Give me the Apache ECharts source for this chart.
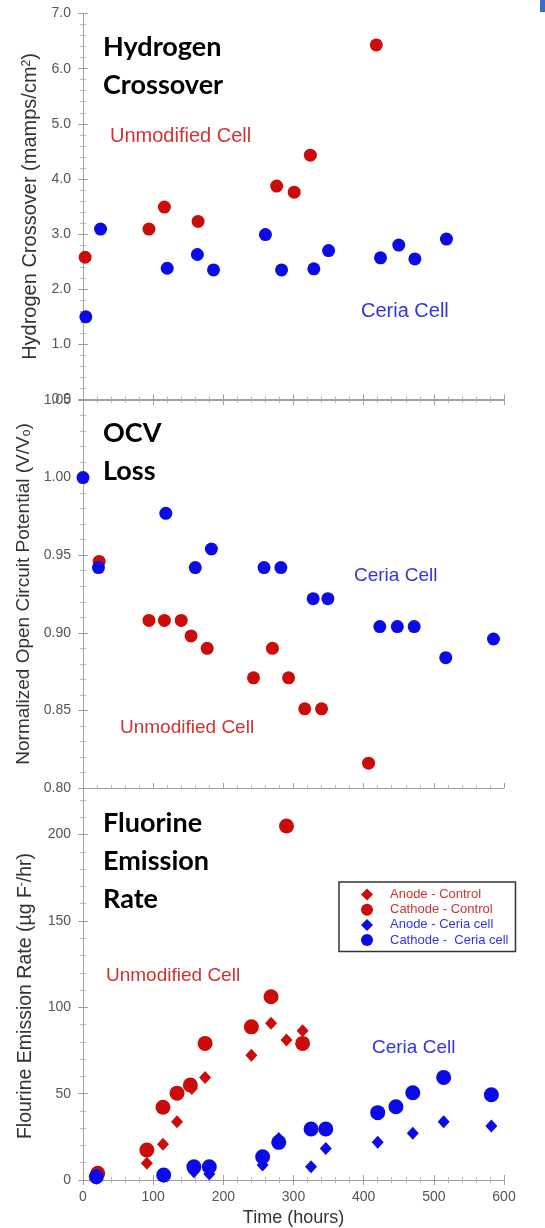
<!DOCTYPE html>
<html>
<head>
<meta charset="utf-8">
<script src="https://cdn.jsdelivr.net/npm/echarts@6/dist/echarts.min.js"></script>
<style>
  html, body { margin: 0; padding: 0; background: #fff; }
  #chart { width: 545px; height: 1228px; }
</style>
</head>
<body>
<div id="chart"></div>
<script>
// ---- Hydrogen crossover (mA/cm^2) ----
const h2ControlTime  = [3, 94, 116, 164, 276, 301, 324, 418];
const h2ControlValue = [2.58, 3.09, 3.49, 3.23, 3.87, 3.76, 4.43, 6.43];
const h2CeriaTime    = [4, 25, 120, 163, 186, 260, 283, 329, 350, 424, 450, 473, 518];
const h2CeriaValue   = [1.50, 3.09, 2.38, 2.63, 2.35, 2.99, 2.35, 2.37, 2.70, 2.57, 2.80, 2.55, 2.91];

// ---- Normalized open circuit potential (V/Vo) ----
const ocvControlTime  = [23, 94, 116, 140, 154, 177, 243, 270, 293, 316, 340, 407];
const ocvControlValue = [0.946, 0.908, 0.908, 0.908, 0.898, 0.890, 0.871, 0.890, 0.871, 0.851, 0.851, 0.816];
const ocvCeriaTime    = [0, 22, 118, 160, 183, 258, 282, 328, 349, 423, 448, 472, 517, 585];
const ocvCeriaValue   = [1.000, 0.942, 0.977, 0.942, 0.954, 0.942, 0.942, 0.922, 0.922, 0.904, 0.904, 0.904, 0.884, 0.896];

// ---- Fluoride emission rate (ug F-/hr) ----
const feAnodeControlTime    = [20, 91, 114, 134, 155, 174, 240, 268, 290, 313];
const feAnodeControlValue   = [1.5, 9.7, 20.7, 33.8, 53, 59.4, 72.3, 90.7, 81, 86.4];
const feCathodeControlTime  = [21, 91, 114, 134, 153, 174, 240, 268, 290, 313];
const feCathodeControlValue = [3.9, 17.4, 42.1, 50.3, 55.0, 79.1, 88.7, 106.1, 205, 79.1];
const feAnodeCeriaTime      = [19, 115, 158, 180, 256, 279, 325, 346, 420, 470, 514, 582];
const feAnodeCeriaValue     = [1, 2, 4.8, 3.5, 8.7, 24.1, 7.7, 18.3, 21.8, 27, 33.8, 31.3];
const feCathodeCeriaTime    = [19, 115, 158, 180, 256, 279, 325, 346, 420, 446, 470, 514, 582];
const feCathodeCeriaValue   = [1.9, 2.9, 7.7, 7.7, 13.5, 21.8, 29.5, 29.5, 39, 42.4, 50.5, 59.4, 49.4];

// ---- Axes ----
const timeTicks = { min: 0, max: 600, interval: 100 };
const legendNames = ['Anode - Control', 'Cathode - Control', 'Anode - Ceria cell', 'Cathode -  Ceria cell'];

const RED = '#cc0b0b';
const BLUE = '#0b0be6';
const RED_TEXT = '#d23232';
const BLUE_TEXT = '#3434e0';
const FRAME = '#a0a0a0';
const FONT = '"Liberation Sans", Arial, sans-serif';

const pair = (xs, ys) => xs.map((x, i) => [x, ys[i]]);

const grids = [
  { left: 83, top: 13.5, width: 421, height: 386 },
  { left: 83, top: 400, width: 421, height: 388 },
  { left: 83, top: 788, width: 421, height: 392 }
];

const lineStyle = { color: FRAME, width: 1 };
const tickStyle = { show: true, inside: true, length: 5, lineStyle: { color: FRAME } };
const minorStyle = { show: true, splitNumber: 5, length: 3, lineStyle: { color: '#b8b8b8' } };

const xAxes = [];
const yAxes = [];
grids.forEach((g, i) => {
  xAxes.push({
    type: 'value', gridIndex: i, position: 'bottom',
    min: timeTicks.min, max: timeTicks.max, interval: timeTicks.interval,
    axisLine: { show: true, lineStyle },
    axisTick: tickStyle, minorTick: minorStyle,
    splitLine: { show: false },
    axisLabel: {
      show: i === 2, color: '#555', fontFamily: FONT, fontSize: 14, margin: 10
    },
    name: i === 2 ? 'Time (hours)' : '',
    nameLocation: 'middle', nameGap: 29,
    nameTextStyle: { color: '#333', fontFamily: FONT, fontSize: 18 }
  });
  xAxes.push({
    type: 'value', gridIndex: i, position: 'top',
    min: timeTicks.min, max: timeTicks.max, interval: timeTicks.interval,
    axisLine: { show: true, lineStyle },
    axisTick: tickStyle, minorTick: minorStyle,
    splitLine: { show: false }, axisLabel: { show: false }
  });
});

const yDefs = [
  { min: 0, max: 7, interval: 1, fmt: v => v.toFixed(1), showMax: true,
    name: 'Hydrogen Crossover (mamps/cm{sup|2})', gap: 29, size: 20, pad: [0, 0, 0, 0] },
  { min: 0.8, max: 1.05, interval: 0.05, fmt: v => v.toFixed(2), showMax: true,
    name: 'Normalized Open Circuit Potential (V/V{sub|o})', gap: 45, size: 19, pad: [0, 0, 0, 0] },
  { min: 0, max: 227, interval: 50, fmt: v => String(Math.round(v)), showMax: false,
    name: 'Flourine Emission Rate (µg F{sup|-}/hr)', gap: 47, size: 19.5, pad: [0, 24, 0, 0] }
];

yDefs.forEach((d, i) => {
  yAxes.push({
    type: 'value', gridIndex: i, position: 'left',
    min: d.min, max: d.max, interval: d.interval,
    axisLine: { show: true, lineStyle },
    axisTick: tickStyle, minorTick: minorStyle,
    splitLine: { show: false },
    axisLabel: {
      color: '#555', fontFamily: FONT, fontSize: 14, margin: 12,
      formatter: d.fmt, showMaxLabel: d.showMax, showMinLabel: true
    },
    name: d.name, nameLocation: 'middle', nameGap: d.gap,
    nameTextStyle: {
      color: '#333', fontFamily: FONT, fontSize: d.size, padding: d.pad,
      rich: {
        sup: { fontSize: 12, verticalAlign: 'top', color: '#333', fontFamily: FONT },
        sub: { fontSize: 12, verticalAlign: 'bottom', color: '#333', fontFamily: FONT }
      }
    }
  });
  yAxes.push({
    type: 'value', gridIndex: i, position: 'right',
    min: d.min, max: d.max, interval: d.interval,
    axisLine: { show: true, lineStyle },
    axisTick: tickStyle, minorTick: minorStyle,
    splitLine: { show: false }, axisLabel: { show: false }
  });
});

function scatter(name, panel, xs, ys, color, symbol, size, z) {
  return {
    name, type: 'scatter',
    xAxisIndex: panel * 2, yAxisIndex: panel * 2,
    data: pair(xs, ys),
    symbol, symbolSize: size,
    itemStyle: { color, opacity: 1 },
    z: z || 2,
    silent: true, clip: false
  };
}

const series = [
  scatter('H2 Unmodified Cell', 0, h2ControlTime, h2ControlValue, RED, 'circle', 13),
  scatter('H2 Ceria Cell', 0, h2CeriaTime, h2CeriaValue, BLUE, 'circle', 13),
  scatter('OCV Unmodified Cell', 1, ocvControlTime, ocvControlValue, RED, 'circle', 13),
  scatter('OCV Ceria Cell', 1, ocvCeriaTime, ocvCeriaValue, BLUE, 'circle', 13, 3),
  scatter(legendNames[0], 2, feAnodeControlTime, feAnodeControlValue, RED, 'diamond', [12, 13]),
  scatter(legendNames[1], 2, feCathodeControlTime, feCathodeControlValue, RED, 'circle', 15),
  scatter(legendNames[2], 2, feAnodeCeriaTime, feAnodeCeriaValue, BLUE, 'diamond', [12, 13], 3),
  scatter(legendNames[3], 2, feCathodeCeriaTime, feCathodeCeriaValue, BLUE, 'circle', 15, 3)
];

// Panel headings and cell annotations
const heading = (lines, x, y0) => lines.map((t, k) => ({
  type: 'text', x, y: y0 + k * 38, silent: true,
  style: { text: t, font: 'bold 27px Lato, "Open Sans", sans-serif', fill: '#000', verticalAlign: 'middle' }
}));
const note = (t, x, y, color, size) => ({
  type: 'text', x, y, silent: true,
  style: { text: t, font: size + 'px ' + FONT, fill: color, verticalAlign: 'middle' }
});

const graphic = [
  ...heading(['Hydrogen', 'Crossover'], 103, 47),
  ...heading(['OCV', 'Loss'], 103, 433),
  ...heading(['Fluorine', 'Emission', 'Rate'], 103, 823),
  note('Unmodified Cell', 110, 136, RED_TEXT, 20),
  note('Ceria Cell', 361, 311, BLUE_TEXT, 20),
  note('Ceria Cell', 354, 576, BLUE_TEXT, 19),
  note('Unmodified Cell', 120, 728, RED_TEXT, 19),
  note('Unmodified Cell', 106, 976, RED_TEXT, 19),
  note('Ceria Cell', 372, 1048, BLUE_TEXT, 19),
  { type: 'rect', shape: { x: 540, y: 0, width: 5, height: 12 }, style: { fill: '#3d6cc4' }, silent: true }
];

const chart = echarts.init(document.getElementById('chart'), null, { renderer: 'canvas' });
chart.setOption({
  animation: false,
  backgroundColor: '#fff',
  grid: grids,
  xAxis: xAxes,
  yAxis: yAxes,
  series,
  legend: {
    data: legendNames.map((n, k) => ({
      name: n,
      textStyle: { color: k < 2 ? RED_TEXT : BLUE_TEXT }
    })),
    orient: 'vertical',
    left: 339, top: 882,
    padding: [6, 7, 5, 22],
    itemWidth: 12, itemHeight: 12, itemGap: 2.2,
    borderColor: '#333', borderWidth: 1.5,
    selectedMode: false,
    textStyle: { fontFamily: FONT, fontSize: 13, padding: [0, 0, 0, 12] }
  },
  graphic
});
</script>
</body>
</html>
